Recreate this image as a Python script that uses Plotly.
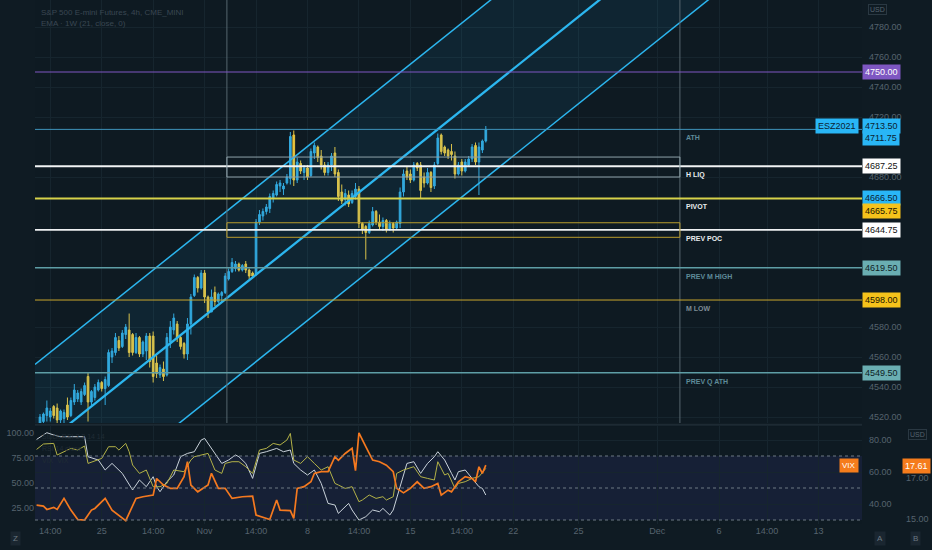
import plotly.graph_objects as go

# ---------------- data ----------------
es_ohlc = [
    (4516, 4522, 4513, 4520), (4517, 4523, 4516, 4522), (4521, 4531, 4517, 4526), (4520, 4526, 4517, 4524),
    (4527, 4528, 4519, 4521), (4526, 4529, 4516, 4518), (4518, 4525, 4516, 4524), (4519, 4525, 4516, 4523),
    (4528, 4533, 4518, 4520), (4521, 4533, 4520, 4531), (4530, 4542, 4528, 4538), (4532, 4538, 4530, 4536),
    (4530, 4539, 4528, 4537), (4535, 4543, 4534, 4541), (4547, 4550, 4517, 4530), (4530, 4538, 4528, 4537),
    (4533, 4542, 4531, 4540), (4538, 4545, 4537, 4543), (4543, 4544, 4537, 4539), (4539, 4547, 4528, 4545),
    (4541, 4565, 4540, 4563), (4560, 4566, 4556, 4564), (4563, 4576, 4561, 4573), (4571, 4574, 4564, 4566),
    (4567, 4578, 4566, 4576), (4575, 4582, 4572, 4580), (4578, 4589, 4560, 4563), (4575, 4576, 4561, 4563),
    (4563, 4576, 4562, 4573), (4573, 4574, 4560, 4562), (4562, 4571, 4560, 4570), (4564, 4576, 4558, 4574),
    (4574, 4576, 4553, 4557), (4574, 4577, 4543, 4547), (4556, 4561, 4546, 4549), (4548, 4555, 4546, 4553),
    (4552, 4557, 4544, 4547), (4548, 4576, 4547, 4573), (4570, 4584, 4566, 4580), (4578, 4589, 4575, 4586),
    (4582, 4584, 4570, 4573), (4573, 4574, 4565, 4567), (4569, 4570, 4559, 4562), (4562, 4586, 4558, 4582),
    (4582, 4602, 4575, 4600), (4601, 4615, 4600, 4613), (4613, 4614, 4603, 4606), (4606, 4618, 4605, 4616),
    (4616, 4618, 4596, 4600), (4600, 4601, 4586, 4590), (4590, 4605, 4590, 4600), (4603, 4607, 4594, 4597),
    (4597, 4603, 4596, 4602), (4601, 4604, 4597, 4603), (4603, 4616, 4602, 4614), (4612, 4619, 4611, 4617),
    (4617, 4626, 4616, 4623), (4619, 4624, 4617, 4622), (4622, 4623, 4617, 4618), (4618, 4622, 4617, 4621),
    (4622, 4624, 4616, 4618), (4618, 4619, 4612, 4614), (4616, 4617, 4613, 4614), (4615, 4652, 4614, 4650),
    (4650, 4658, 4648, 4655), (4654, 4659, 4651, 4657), (4657, 4662, 4655, 4660), (4659, 4669, 4656, 4667),
    (4666, 4671, 4663, 4669), (4668, 4677, 4667, 4675), (4674, 4678, 4670, 4676), (4672, 4676, 4668, 4674),
    (4676, 4682, 4675, 4680), (4679, 4710, 4675, 4707), (4708, 4711, 4674, 4678), (4678, 4693, 4676, 4690),
    (4689, 4691, 4682, 4684), (4683, 4688, 4678, 4686), (4686, 4688, 4678, 4680), (4681, 4699, 4680, 4697),
    (4696, 4703, 4692, 4701), (4700, 4701, 4690, 4693), (4694, 4698, 4685, 4688), (4688, 4690, 4681, 4683),
    (4683, 4690, 4681, 4688), (4688, 4696, 4684, 4694), (4696, 4700, 4680, 4682), (4683, 4685, 4664, 4667),
    (4670, 4675, 4662, 4664), (4665, 4672, 4661, 4669), (4668, 4671, 4660, 4662), (4663, 4671, 4662, 4669),
    (4667, 4676, 4665, 4672), (4672, 4674, 4646, 4649), (4649, 4650, 4642, 4645), (4647, 4648, 4625, 4643),
    (4643, 4651, 4642, 4649), (4648, 4660, 4647, 4657), (4657, 4658, 4648, 4650), (4650, 4655, 4645, 4647),
    (4647, 4653, 4644, 4651), (4651, 4652, 4643, 4645), (4645, 4651, 4644, 4649), (4649, 4650, 4643, 4646),
    (4646, 4651, 4645, 4650), (4649, 4673, 4646, 4670), (4670, 4685, 4667, 4682), (4684, 4687, 4678, 4680),
    (4682, 4685, 4676, 4678), (4678, 4690, 4677, 4688), (4689, 4690, 4684, 4686), (4688, 4690, 4666, 4671),
    (4680, 4683, 4673, 4676), (4676, 4686, 4675, 4683), (4683, 4684, 4670, 4673), (4674, 4690, 4672, 4688),
    (4689, 4709, 4688, 4706), (4708, 4709, 4695, 4697), (4700, 4701, 4694, 4696), (4698, 4699, 4692, 4694),
    (4697, 4702, 4691, 4695), (4694, 4697, 4679, 4682), (4682, 4690, 4681, 4688), (4690, 4692, 4681, 4684),
    (4684, 4692, 4683, 4690), (4688, 4694, 4687, 4692), (4692, 4702, 4690, 4700), (4701, 4703, 4688, 4690),
    (4690, 4703, 4668, 4700), (4698, 4705, 4696, 4704), (4704, 4714, 4703, 4711.75),
]
bars = list(range(len(es_ohlc)))

# oscillators (lower pane, left scale 0-100)
stoch_k_x = [-1, 2, 4, 6, 13, 14, 17, 19, 21, 24, 27, 29, 31, 33, 34, 35, 37, 39, 41, 43, 45, 47, 48, 50,
             52, 53, 55, 57, 58, 60, 62, 64, 66, 69, 71, 73, 74, 76, 78, 80, 82, 84, 86, 87, 90, 91, 93, 95,
             97, 99, 100, 102, 103, 105, 107, 109, 111, 113, 115, 116, 118, 120, 121, 122, 124, 126, 128, 129, 130]
stoch_k = [93.3, 100, 97.7, 96, 96, 76, 72.7, 62.7, 69.3, 59.3, 42.7, 52.7, 46, 56, 46, 41, 51, 57.7, 76, 79.3,
           81, 92.7, 94.3, 84.3, 74.3, 69.3, 72.7, 77.7, 76, 69.3, 54.3, 79.3, 81, 84.3, 81, 82.7, 69.3, 62.7,
           57.7, 62.7, 49.3, 29.3, 27.7, 19.3, 29.3, 22.7, 12.7, 16, 22.7, 21, 24.3, 17.7, 22.7, 46, 69.3, 71,
           59.3, 69.3, 76, 81, 72.7, 59.3, 52.7, 61, 62.7, 54.3, 46, 44.3, 37.7]
stoch_d_x = [-1, 1, 4, 5, 7, 9, 11, 13, 14, 17, 18, 20, 22, 23, 25, 26, 27, 29, 31, 33, 35, 37, 39, 42, 44,
             45, 47, 49, 51, 53, 54, 56, 58, 60, 62, 64, 66, 68, 70, 72, 73, 74, 76, 78, 80, 82, 84, 86, 87,
             89, 91, 93, 94, 96, 98, 100, 101, 103, 104, 106, 109, 111, 113, 115, 116, 118, 119, 121, 122,
             124, 126, 128, 130]
stoch_d = [83.3, 88.7, 89.3, 77.7, 81, 84.3, 82.7, 86.7, 69.3, 72.7, 74.3, 86, 86, 82.7, 89.3, 81, 67.7,
           59.3, 62.7, 46, 46, 49.3, 62.7, 61, 72.7, 76, 77.7, 79.3, 62.7, 59.3, 69.3, 71, 71, 66, 59.3, 82.7,
           84.3, 89.3, 87.7, 92.7, 99.3, 72.7, 69.3, 76, 69.3, 62.7, 66, 49.3, 47.7, 44.3, 46, 31, 32.7,
           37.7, 34.3, 36, 32.7, 36, 59.3, 62.7, 66, 56, 54.3, 52.7, 71, 57.7, 59.3, 44.3, 49.3, 51, 54.3,
           56, 64.3]
# VIX (lower pane, far right scale)
vix_x = [-1, 1, 2, 4, 5, 7, 9, 11, 13, 15, 16, 19, 21, 23, 25, 28, 30, 33, 34, 36, 38, 40, 42, 43, 44, 46,
         49, 50, 52, 54, 56, 59, 62, 63, 67, 69, 70, 73, 74, 75, 77, 79, 80, 82, 84, 86, 87, 89, 91, 92, 93,
         95, 97, 99, 101, 103, 104, 106, 108, 110, 112, 114, 116, 117, 119, 120, 122, 124, 126, 127, 128,
         129, 130]
vix = [15.68, 15.63, 15.47, 15.57, 15.47, 16.01, 15.44, 14.98, 14.95, 15.44, 15.52, 16.01, 15.44, 15.2,
       14.92, 16.01, 16.09, 16.17, 16.98, 16.66, 16.5, 16.5, 17.07, 17.8, 16.66, 16.33, 16.66, 17.23, 16.5,
       16.5, 16.01, 16.09, 16.12, 15.2, 14.98, 15.93, 15.44, 15.41, 15.03, 16.5, 16.58, 16.82, 17.23, 17.31,
       17.31, 18.04, 17.87, 18.2, 18.45, 17.36, 19.21, 18.53, 17.88, 17.8, 17.63, 17.31, 16.5, 16.28, 16.5,
       16.82, 16.5, 16.58, 16.74, 16.17, 16.41, 16.33, 16.82, 17.07, 16.98, 16.82, 17.55, 17.23, 17.63]
vix_last = 17.61

# drawn levels
level_price = [4750.0, 4711.75, 4687.25, 4665.75, 4644.75, 4619.5, 4598.0, 4549.5]
level_name = ["", "ATH", "H LIQ", "PIVOT", "PREV POC", "PREV M HIGH", "M LOW", "PREV Q ATH"]
level_color = ["#7e57c2", "#3f93bb", "#f2f4f5", "#d6d24a", "#eef0f2", "#5e9ea6", "#c9a62e", "#5e9ea6"]
level_width = [1.2, 1, 2, 2, 1.6, 1.4, 1, 1.4]
name_color = ["#000", "#5f8b99", "#e8ecee", "#e8ecee", "#e8ecee", "#5f8b99", "#7d8b94", "#5f8b99"]

# right-hand price tags
tag_price = [4750.0, 4713.5, 4711.75, 4687.25, 4666.5, 4665.75, 4644.75, 4619.5, 4598.0, 4549.5]
tag_bg = ["#7e57c2", "#29b6f6", "#29b6f6", "#ffffff", "#29b6f6", "#f5c21b", "#ffffff", "#6aaeb2",
          "#f5c21b", "#6aaeb2"]
tag_fg = ["#ffffff", "#0b2230", "#0b2230", "#111111", "#0b2230", "#1a1400", "#111111", "#0e2224",
          "#1a1400", "#0e2224"]
tag_shift = [0, 1, -9, 0, -1, -13, 0, 0, 0, 0]

# zones (boxes) and vertical markers, in bar / price units
zone_x = [54.5, 186.6]
hliq_zone = [4680.0, 4693.3]
poc_zone = [4639.8, 4649.5]
marker_x = [54.5, 186.6]

# regression channel (mid line endpoints + half width)
channel_x = [-1.46, 240.0]
channel_mid = [4497.0, 4938.6]
channel_half = 58.0

# axis ticks
x_tickvals = [3, 18, 33, 48, 63, 78, 93, 108, 123, 138, 157, 180, 198, 212, 227]
x_ticktext = ["14:00", "25", "14:00", "Nov", "14:00", "8", "14:00", "15", "14:00", "22", "25", "Dec",
              "6", "14:00", "13"]
price_ticks = [4520, 4540, 4560, 4580, 4680, 4720, 4740, 4760, 4780]
osc_ticks = [25, 50, 75, 100]
rsi_ticks = [40, 60, 80]
rsi_band = [30, 70]
rsi_mid = 50
vix_ticks = [15, 17]

# ---------------- styling ----------------
UP = "#33a8dc"
DOWN = "#e8c43e"
CH = "#2cb6ef"
GRID = "#16252e"
TXT = "#56636e"
FONT = "Liberation Sans"

opens = [c[0] for c in es_ohlc]
highs = [c[1] for c in es_ohlc]
lows = [c[2] for c in es_ohlc]
closes = [c[3] for c in es_ohlc]
ch_up = [m + channel_half for m in channel_mid]
ch_lo = [m - channel_half for m in channel_mid]

fig = go.Figure()
# channel fill
fig.add_trace(go.Scatter(x=channel_x, y=ch_lo, mode="lines", line=dict(width=0, color=CH),
                         hoverinfo="skip"))
fig.add_trace(go.Scatter(x=channel_x, y=ch_up, mode="lines", line=dict(width=0, color=CH),
                         fill="tonexty", fillcolor="rgba(44,182,239,0.08)", hoverinfo="skip"))
# candles
fig.add_trace(go.Candlestick(
    x=bars, open=opens, high=highs, low=lows, close=closes, whiskerwidth=0,
    increasing=dict(line=dict(color=UP, width=1), fillcolor=UP),
    decreasing=dict(line=dict(color=DOWN, width=1), fillcolor=DOWN),
    hoverinfo="skip"))
# channel lines
fig.add_trace(go.Scatter(x=channel_x, y=ch_up, mode="lines", line=dict(width=1.5, color=CH), hoverinfo="skip"))
fig.add_trace(go.Scatter(x=channel_x, y=channel_mid, mode="lines", line=dict(width=2.3, color=CH), hoverinfo="skip"))
fig.add_trace(go.Scatter(x=channel_x, y=ch_lo, mode="lines", line=dict(width=1.5, color=CH), hoverinfo="skip"))

# lower pane series
fig.add_trace(go.Scatter(x=stoch_k_x, y=stoch_k, yaxis="y2", mode="lines",
                         line=dict(color="#c9d2da", width=1), hoverinfo="skip"))
fig.add_trace(go.Scatter(x=stoch_d_x, y=stoch_d, yaxis="y2", mode="lines",
                         line=dict(color="#b3b247", width=1), hoverinfo="skip"))
fig.add_trace(go.Scatter(x=vix_x, y=vix, yaxis="y4", mode="lines",
                         line=dict(color="#f5791f", width=1.7), hoverinfo="skip"))

shapes = []
# RSI band in lower pane
shapes.append(dict(type="rect", xref="x domain", yref="y3", x0=0, x1=1, y0=rsi_band[0], y1=rsi_band[1],
                   fillcolor="rgba(70,70,160,0.16)", line=dict(width=0), layer="below"))
for v in [rsi_band[0], rsi_mid, rsi_band[1]]:
    shapes.append(dict(type="line", xref="x domain", yref="y3", x0=0, x1=1, y0=v, y1=v,
                       line=dict(color="#6d7883", width=1, dash="3px,3px")))
# separator between panes
shapes.append(dict(type="line", xref="paper", yref="paper", x0=0, x1=1, y0=0.1895, y1=0.1895,
                   line=dict(color="#1d2a33", width=2)))
# vertical markers
for xv in marker_x:
    shapes.append(dict(type="line", xref="x", yref="y domain", x0=xv, x1=xv, y0=0, y1=1,
                       line=dict(color="#56666f", width=1)))
# horizontal levels
for p, c, w in zip(level_price, level_color, level_width):
    shapes.append(dict(type="line", xref="x domain", yref="y", x0=0, x1=1, y0=p, y1=p,
                       line=dict(color=c, width=w)))
# zones
shapes.append(dict(type="rect", xref="x", yref="y", x0=zone_x[0], x1=zone_x[1], y0=hliq_zone[0],
                   y1=hliq_zone[1], line=dict(color="#8fa2aa", width=1), fillcolor="rgba(0,0,0,0)"))
shapes.append(dict(type="rect", xref="x", yref="y", x0=zone_x[0], x1=zone_x[1], y0=poc_zone[0],
                   y1=poc_zone[1], line=dict(color="#b99c2c", width=1), fillcolor="rgba(0,0,0,0)"))

ann = []
# level names
for p, n, c in zip(level_price, level_name, name_color):
    if n:
        ann.append(dict(x=187.8, y=p, xref="x", yref="y", text="<b>" + n + "</b>", showarrow=False,
                        xanchor="left", yanchor="top", yshift=-3,
                        font=dict(family=FONT, size=7, color=c)))
# price tags
for p, bg, fg, sh in zip(tag_price, tag_bg, tag_fg, tag_shift):
    ann.append(dict(x=1, y=p, xref="paper", yref="y", text="%.2f" % p, showarrow=False, xanchor="left",
                    yshift=sh, xshift=0, bgcolor=bg, borderpad=2,
                    font=dict(family=FONT, size=9, color=fg)))
ann.append(dict(x=1, y=4713.5, xref="paper", yref="y", text="ESZ2021", showarrow=False, xanchor="right",
                yshift=1, xshift=-3, bgcolor="#29b6f6", borderpad=2, font=dict(family=FONT, size=9, color="#0b2230")))
# VIX tags
ann.append(dict(x=1, y=vix_last, xref="paper", yref="y4", text="VIX", showarrow=False, xanchor="right",
                xshift=-3, bgcolor="#f57c1c", borderpad=2, font=dict(family=FONT, size=8, color="#ffffff")))
ann.append(dict(x=1, y=vix_last, xref="paper", yref="y4", text="%.2f" % vix_last, showarrow=False,
                xanchor="left", xshift=40, bgcolor="#f57c1c", borderpad=2,
                font=dict(family=FONT, size=9, color="#ffffff")))
# USD badges
ann.append(dict(x=1, y=1, xref="paper", yref="paper", text="USD", showarrow=False, xanchor="left",
                yanchor="top", xshift=6, yshift=-4, bordercolor="#2a3842", borderwidth=1, borderpad=1,
                font=dict(family=FONT, size=7, color=TXT)))
ann.append(dict(x=1, y=0.187, xref="paper", yref="paper", text="USD", showarrow=False, xanchor="left",
                yanchor="top", xshift=46, yshift=-3, bordercolor="#2a3842", borderwidth=1, borderpad=1,
                font=dict(family=FONT, size=7, color=TXT)))
# titles
ann.append(dict(x=0, y=1, xref="paper", yref="paper", text="S&P 500 E-mini Futures, 4h, CME_MINI",
                showarrow=False, xanchor="left", yanchor="top", xshift=4, yshift=-6,
                font=dict(family=FONT, size=8, color="#3a4752")))
ann.append(dict(x=0, y=1, xref="paper", yref="paper", text="EMA · 1W (21, close, 0)",
                showarrow=False, xanchor="left", yanchor="top", xshift=4, yshift=-17,
                font=dict(family=FONT, size=8, color="#3a4752")))
for i, t in enumerate(["Stoch RSI 3 3 14 14", "RSI 14 close", "VIX  VIX"]):
    ann.append(dict(x=0, y=0.187, xref="paper", yref="paper", text=t, showarrow=False, xanchor="left",
                    yanchor="top", xshift=5, yshift=-5 - 12 * i,
                    font=dict(family=FONT, size=7, color="#202c35")))
# bottom buttons
for t, xp, xs in [("Z", 0, -20), ("A", 1, 18), ("B", 1, 53)]:
    ann.append(dict(x=xp, y=0, xref="paper", yref="paper", text=t, showarrow=False, xanchor="center",
                    yanchor="top", xshift=xs, yshift=-7, bgcolor="#1a2630", borderpad=2,
                    font=dict(family=FONT, size=8, color="#6b7882")))

fig.update_layout(
    width=932, height=550, margin=dict(l=35, r=70, t=0, b=26),
    paper_bgcolor="#0f1b23", plot_bgcolor="#0e1a22", showlegend=False,
    font=dict(family=FONT, size=9, color=TXT),
    shapes=shapes, annotations=ann, hovermode=False,
    xaxis=dict(range=[-1.46, 239.7], anchor="y2", tickvals=x_tickvals, ticktext=x_ticktext,
               showgrid=True, gridcolor=GRID, gridwidth=1, zeroline=False, showline=False, ticks="",
               rangeslider=dict(visible=False), tickfont=dict(family=FONT, size=9, color=TXT)),
    yaxis=dict(domain=[0.1927, 1], range=[4516, 4798], side="right", tickvals=price_ticks,
               tickformat=".2f", showgrid=True, gridcolor=GRID, zeroline=False, ticks="",
               ticklabelstandoff=6, tickfont=dict(family=FONT, size=9, color=TXT)),
    yaxis2=dict(domain=[0, 0.187], range=[8.7, 106.7], side="left", anchor="x", tickvals=osc_ticks,
                tickformat=".2f", showgrid=False, zeroline=False, ticks="",
                tickfont=dict(family=FONT, size=9, color=TXT)),
    yaxis3=dict(overlaying="y2", range=[27.5, 88.75], side="right", anchor="x", tickvals=rsi_ticks,
                tickformat=".2f", showgrid=True, gridcolor=GRID, zeroline=False, ticks="",
                ticklabelstandoff=6, tickfont=dict(family=FONT, size=9, color=TXT)),
    yaxis4=dict(overlaying="y2", range=[14.76, 19.54], side="right", anchor="free", position=1,
                tickvals=vix_ticks, tickformat=".2f", showgrid=False, zeroline=False, ticks="",
                ticklabelstandoff=43, tickfont=dict(family=FONT, size=9, color=TXT)),
)

fig.write_html("out.html", config={"displayModeBar": False},
               post_script="document.body.style.margin='0px';document.body.style.overflow='hidden';")
